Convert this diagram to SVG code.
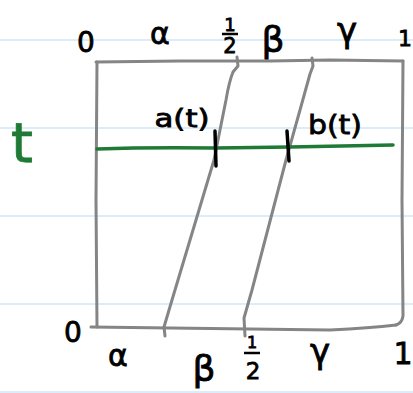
<svg xmlns="http://www.w3.org/2000/svg" width="413" height="393" viewBox="0 0 413 393">
<style>
.rule{stroke:#cfe6fa;stroke-width:1.5}
.edge{fill:none;stroke:#858585;stroke-width:3;stroke-linecap:round;stroke-linejoin:round}
.tick{fill:none;stroke:#000;stroke-width:3.5;stroke-linecap:round}
.lbl{font-family:"DejaVu Sans","Liberation Sans",sans-serif;font-size:28px;fill:#000;stroke:#000;stroke-width:0.8;text-anchor:middle}
.frac{font-family:"DejaVu Sans","Liberation Sans",sans-serif;font-size:18px;fill:#000;stroke:#000;stroke-width:0.8;text-anchor:middle}
.grn{fill:#1e7a35;stroke:#1e7a35}
</style>
<rect width="413" height="393" fill="#fff"/>
<g id="paper">
<line class="rule" x1="0" y1="40" x2="413" y2="40"/>
<line class="rule" x1="0" y1="128" x2="413" y2="128"/>
<line class="rule" x1="0" y1="216" x2="413" y2="216"/>
<line class="rule" x1="0" y1="304" x2="413" y2="304"/>
<line class="rule" x1="0" y1="392" x2="413" y2="392"/>
</g>
<g id="connectors">
<path class="edge" d="M96,62 L180,61 L270,61 L330,60 L403,61"/>
<path class="edge" d="M97,62 L96,200 L97,327"/>
<path class="edge" d="M403,61 L402,200 L403,316 Q402,323 396,325"/>
<path class="edge" d="M91,327 L170,328 L250,329 L330,330 Q370,328 396,325"/>
<path class="edge" d="M237,57 L238,66 L233,72 Q229,82 226,100 L214,160 L172,300 L164,327 L165,336"/>
<path class="edge" d="M312,58 L313,66 L310,74 L300,110 L286,160 L252,290 L244,318 L245,336"/>
<path d="M97,149 Q150,147 216,148 L290,147 L393,145" fill="none" stroke="#1e7a35" stroke-width="3.5" stroke-linecap="round"/>
<path class="tick" d="M215,131 L216,166"/>
<path class="tick" d="M287,131 L289,161"/>
</g>
<g id="labels">
<text class="lbl" x="86" y="52">0</text>
<text class="lbl" x="160" y="44" style="font-size:30px">α</text>
<text class="frac" x="230" y="31">1</text>
<line x1="222" y1="34" x2="238" y2="34" stroke="#000" stroke-width="2.5"/>
<text class="frac" x="230" y="53" style="font-size:21px">2</text>
<text class="lbl" x="273" y="52" style="font-size:36px">β</text>
<text class="lbl" x="347" y="42" style="font-size:34px">γ</text>
<text class="lbl" x="405" y="46" style="font-size:22px">1</text>
<text class="lbl" x="182" y="127" style="font-size:25px" textLength="55" lengthAdjust="spacingAndGlyphs">a(t)</text>
<text class="lbl" x="335" y="134" style="font-size:27px" textLength="54" lengthAdjust="spacingAndGlyphs">b(t)</text>
<text class="lbl grn" x="22" y="162" style="font-size:56px">t</text>
<text class="lbl" x="73" y="342">0</text>
<text class="lbl" x="118" y="366" style="font-size:30px">α</text>
<text class="lbl" x="204" y="381" style="font-size:36px">β</text>
<text class="frac" x="252" y="348" style="font-size:16px">1</text>
<line x1="244" y1="353" x2="260" y2="353" stroke="#000" stroke-width="2.5"/>
<text class="frac" x="253" y="379" style="font-size:23px">2</text>
<text class="lbl" x="320" y="363" style="font-size:34px">γ</text>
<text class="lbl" x="403" y="364" style="font-size:30px">1</text>
</g>
</svg>
